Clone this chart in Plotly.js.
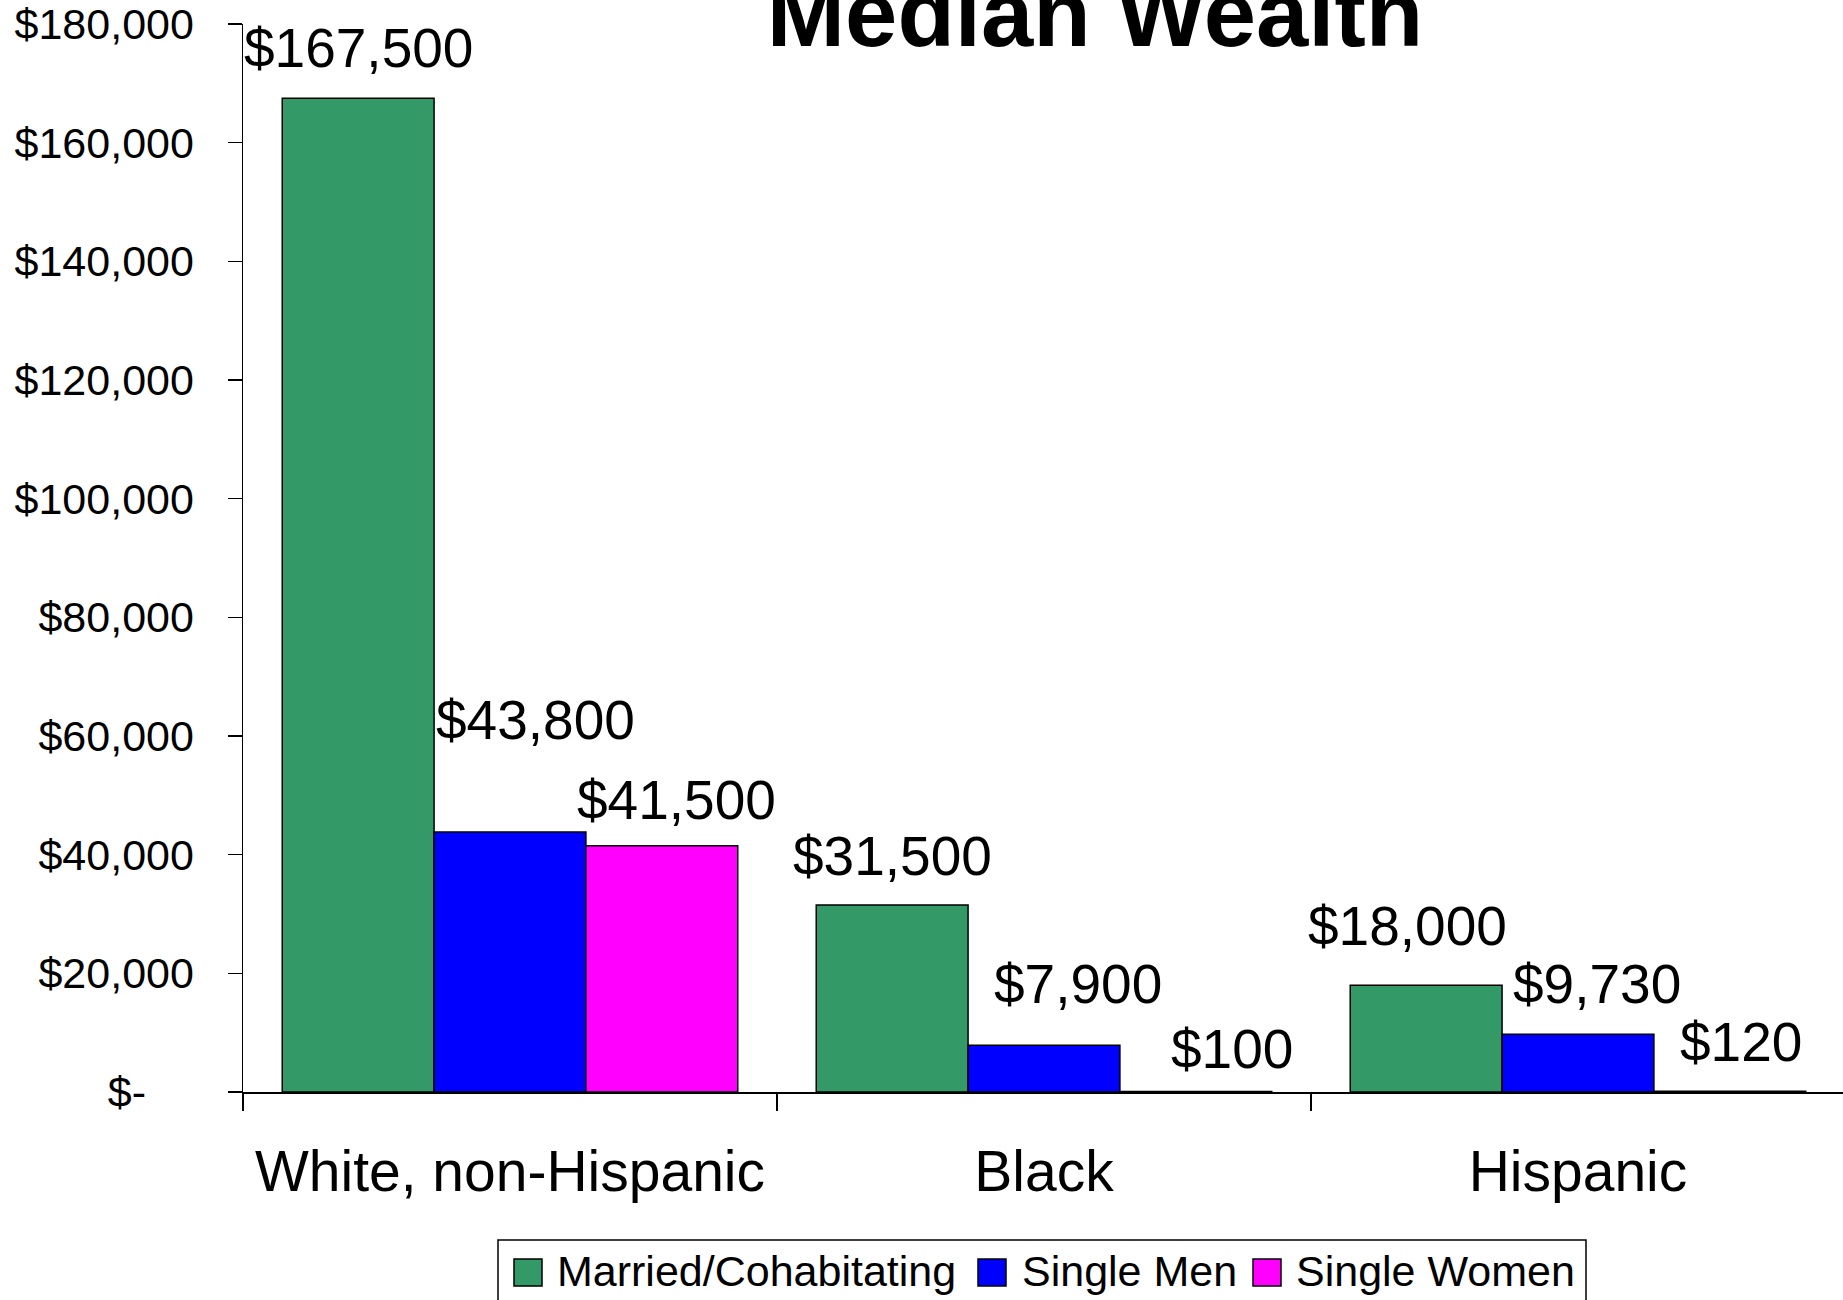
<!DOCTYPE html>
<html>
<head>
<meta charset="utf-8">
<script src="https://cdn.plot.ly/plotly-3.0.1.min.js"></script>
<style>
  html, body { margin: 0; padding: 0; background: #ffffff; overflow: hidden; }
  #chart { width: 1843px; height: 1300px; }
</style>
</head>
<body>
<div id="chart"></div>
<script>
// ---------------- data ----------------
const categories = ['White, non-Hispanic', 'Black', 'Hispanic'];
const seriesNames = ['Married/Cohabitating', 'Single Men', 'Single Women'];
const married = [167500, 31500, 18000];
const singleMen = [43800, 7900, 9730];
const singleWomen = [41500, 100, 120];
const yTickVals = [0, 20000, 40000, 60000, 80000, 100000, 120000, 140000, 160000, 180000];
const yTickText = ['$-\u00a0\u00a0\u00a0\u00a0', '$20,000', '$40,000', '$60,000', '$80,000',
                   '$100,000', '$120,000', '$140,000', '$160,000', '$180,000'];
const titleText = 'Median Wealth';

// ---------------- styles ----------------
const FONT = 'Liberation Sans, Arial, Helvetica, sans-serif';
const colors = ['#339966', '#0000FF', '#FF00FF'];
const BARGAP = 0.147;
// label offsets in px [dx, dy-up] relative to the top centre of each bar
const labelOffsets = [
  [[0, 50], [0, 49], [-19, 59]],
  [[25.5, 112], [33.6, 61], [19, 50]],
  [[14.5, 46], [36, 42.5], [11, 49.5]]
];

const PLOT_L = 243, PLOT_W = 1600, PLOT_T = 24, PLOT_H = 1068;
const fx = px => (px - PLOT_L) / PLOT_W;
const fy = py => (PLOT_T + PLOT_H - py) / PLOT_H;

const seriesValues = [married, singleMen, singleWomen];

const traces = seriesValues.map((vals, s) => ({
  type: 'bar',
  name: seriesNames[s],
  x: categories,
  y: vals,
  marker: { color: colors[s], line: { color: '#000000', width: 1.5 } },
  hoverinfo: 'skip'
}));

const fmt = v => '$' + v.toLocaleString('en-US');
const barUnit = (1 - BARGAP) / seriesValues.length;

const annotations = [];
seriesValues.forEach((vals, s) => {
  vals.forEach((v, c) => {
    annotations.push({
      xref: 'x', yref: 'y',
      x: c + (s - (seriesValues.length - 1) / 2) * barUnit,
      y: v,
      text: fmt(v),
      showarrow: false,
      xanchor: 'center', yanchor: 'middle',
      xshift: labelOffsets[s][c][0],
      yshift: labelOffsets[s][c][1],
      font: { family: FONT, size: 55, color: '#000000' }
    });
  });
});

// custom legend (large swatches like the original)
const shapes = [];
const legendBox = { x0: 498, x1: 1586, y0: 1240, y1: 1330 };
shapes.push({
  type: 'rect', xref: 'paper', yref: 'paper',
  x0: fx(legendBox.x0), x1: fx(legendBox.x1), y0: fy(legendBox.y0), y1: fy(legendBox.y1),
  line: { color: '#000000', width: 1.5 }, fillcolor: 'rgba(0,0,0,0)'
});
const swatchX = [514, 978, 1253];
const textX = [555, 1020, 1294];
seriesNames.forEach((name, s) => {
  shapes.push({
    type: 'rect', xref: 'paper', yref: 'paper',
    x0: fx(swatchX[s]), x1: fx(swatchX[s] + 28), y0: fy(1259), y1: fy(1286),
    line: { color: '#000000', width: 1.5 }, fillcolor: colors[s]
  });
  annotations.push({
    xref: 'paper', yref: 'paper',
    x: fx(textX[s]), y: fy(1271),
    text: name, showarrow: false,
    xanchor: 'left', yanchor: 'middle',
    font: { family: FONT, size: 43, color: '#000000' }
  });
});

const layout = {
  width: 1843, height: 1300,
  paper_bgcolor: '#ffffff', plot_bgcolor: '#ffffff',
  margin: { l: PLOT_L, r: 0, t: PLOT_T, b: 1300 - PLOT_T - PLOT_H, pad: 0 },
  showlegend: false,
  barmode: 'group',
  bargap: BARGAP,
  bargroupgap: 0,
  font: { family: FONT, color: '#000000' },
  title: {
    text: titleText,
    font: { family: FONT, size: 94, weight: 'bold', color: '#000000' },
    xref: 'container', yref: 'container',
    x: 1095 / 1843, xanchor: 'center',
    y: 1 - 13 / 1300, yanchor: 'middle'
  },
  xaxis: {
    type: 'category',
    range: [-0.5, 2.4963],
    showline: true, linecolor: '#000000', linewidth: 2,
    ticks: 'outside', ticklen: 17, tickwidth: 1.5, tickcolor: '#000000',
    tickson: 'boundaries',
    ticklabelstandoff: 29,
    tickfont: { family: FONT, size: 57, color: '#000000' },
    showgrid: false, zeroline: false, fixedrange: true
  },
  yaxis: {
    range: [0, 180000],
    tickmode: 'array', tickvals: yTickVals, ticktext: yTickText,
    showline: true, linecolor: '#000000', linewidth: 1.5,
    ticks: 'outside', ticklen: 14, tickwidth: 1.5, tickcolor: '#000000',
    ticklabelstandoff: 25,
    tickfont: { family: FONT, size: 43, color: '#000000' },
    showgrid: false, zeroline: false, fixedrange: true
  },
  shapes: shapes,
  annotations: annotations
};

Plotly.newPlot('chart', traces, layout, { displayModeBar: false, staticPlot: true });
</script>
</body>
</html>
